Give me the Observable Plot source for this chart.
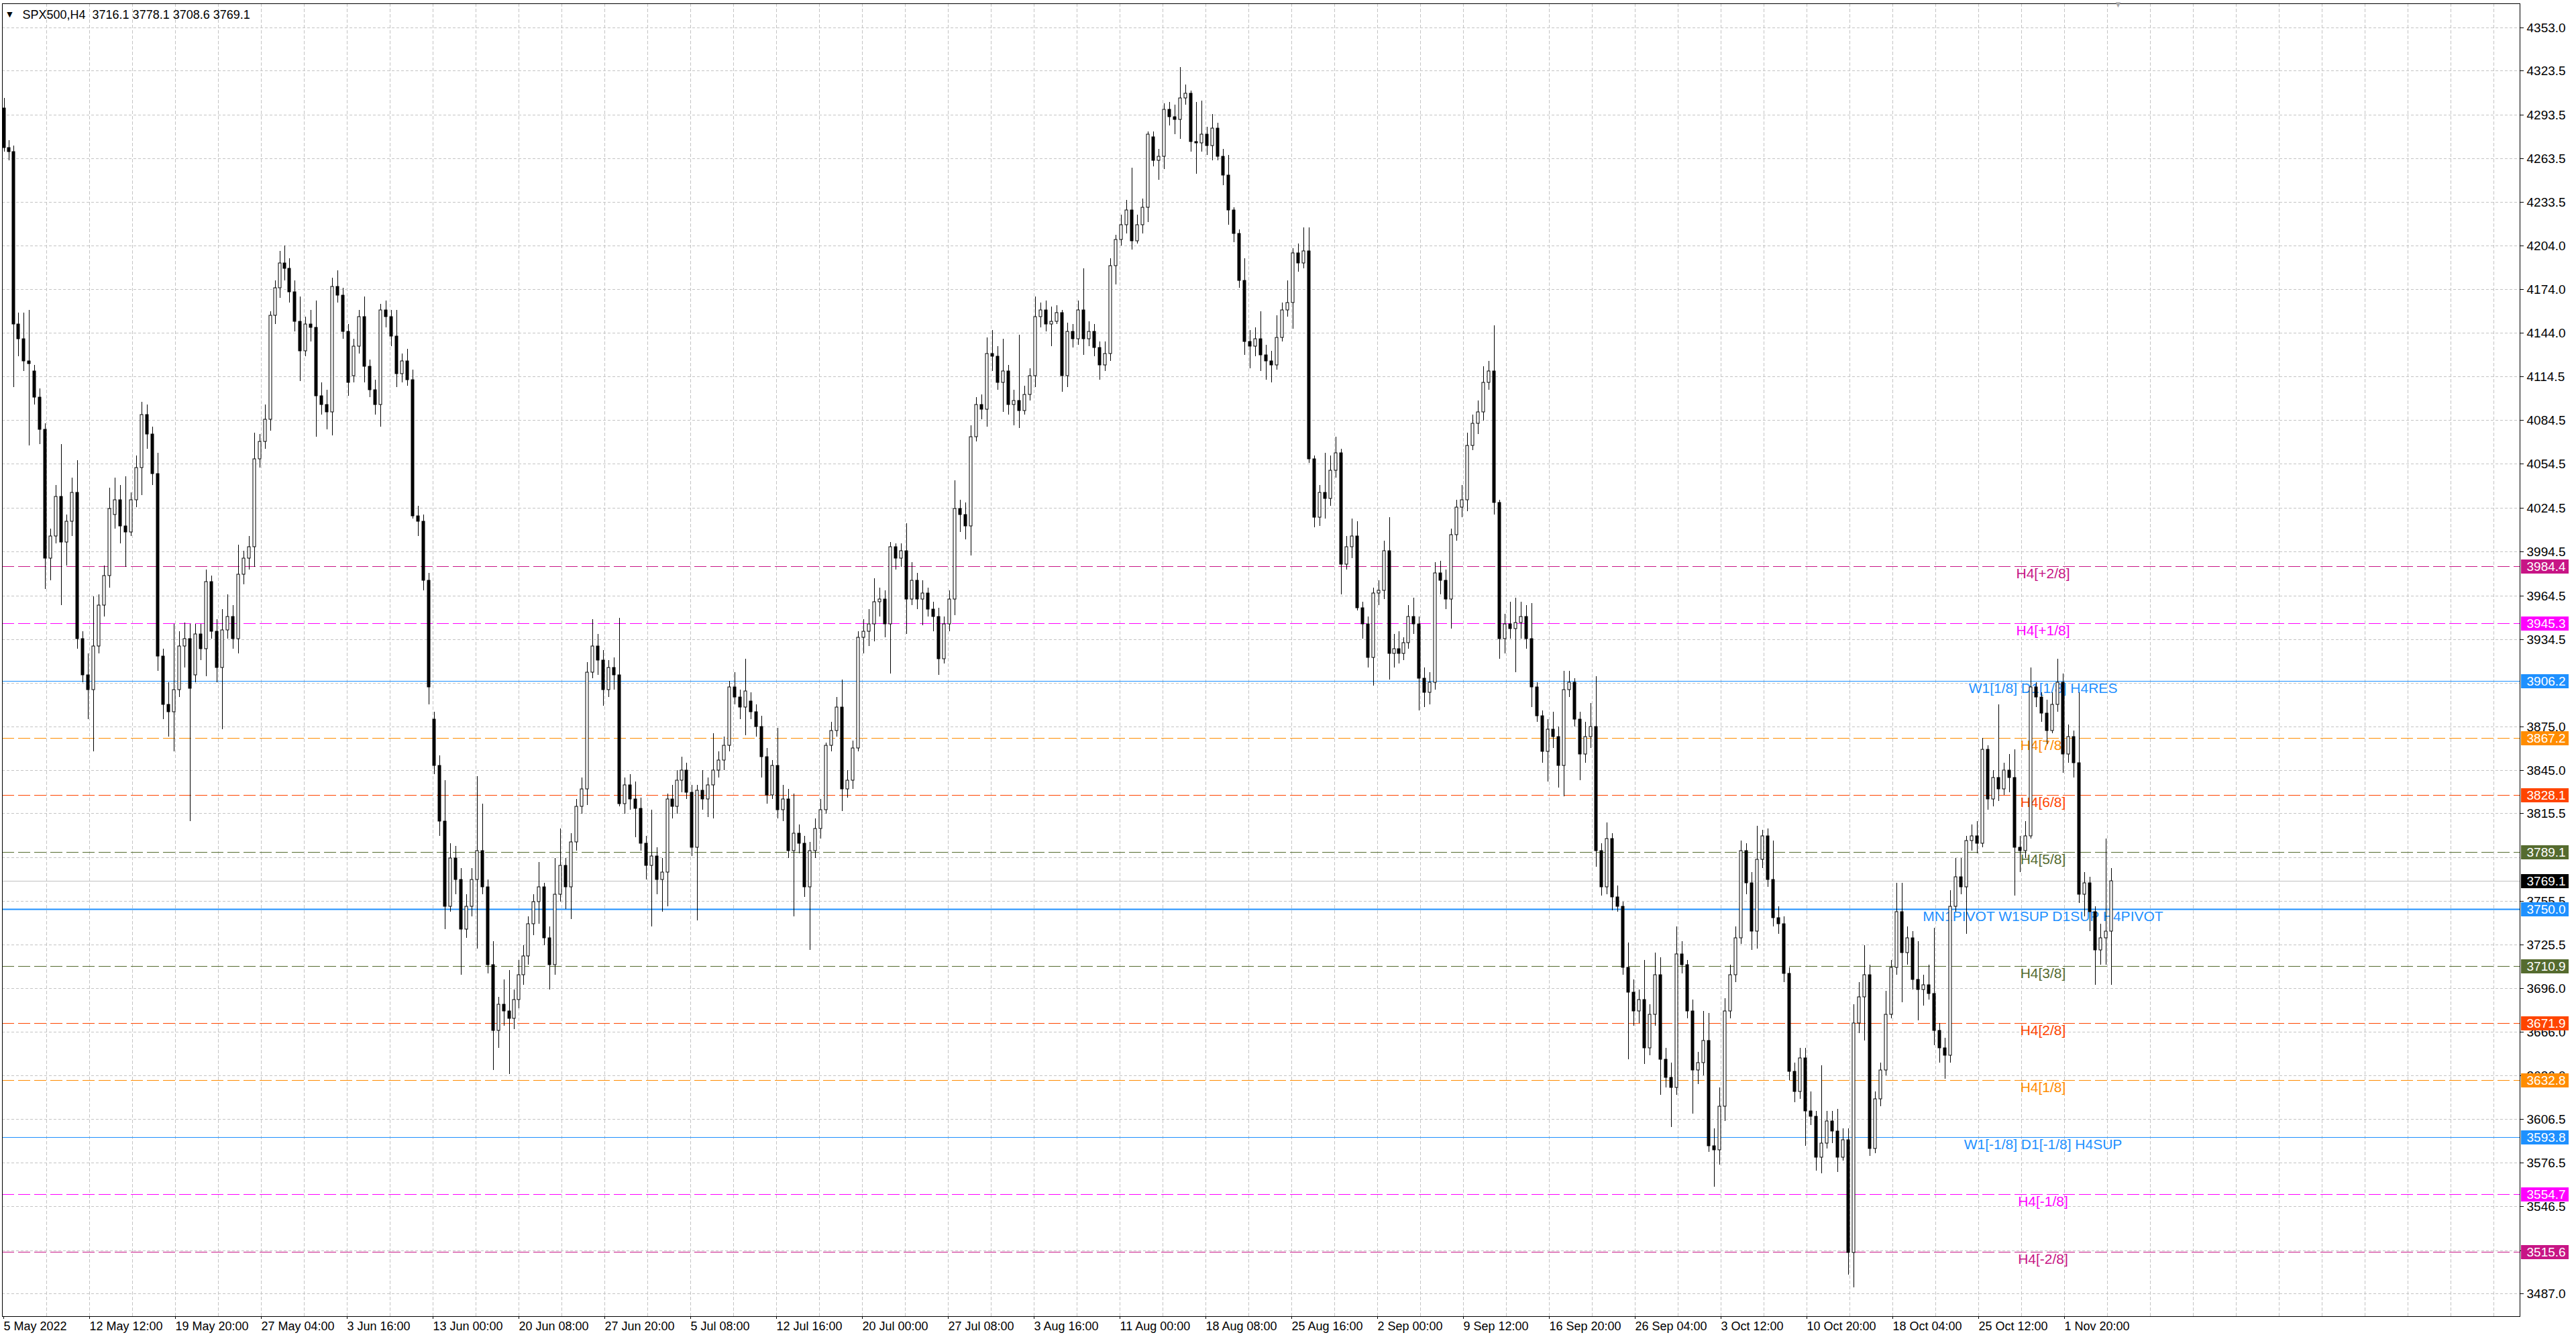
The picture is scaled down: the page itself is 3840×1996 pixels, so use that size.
<!DOCTYPE html>
<html>
<head>
<meta charset="utf-8">
<script src="https://cdn.jsdelivr.net/npm/d3@7"></script>
<script src="https://cdn.jsdelivr.net/npm/@observablehq/plot@0.6"></script>
<style>
html,body{margin:0;padding:0;background:#ffffff;}
#chart{width:3840px;height:1996px;overflow:hidden;}
</style>
</head>
<body>
<div id="chart"></div>
<script>
// ---------------- DATA ----------------
const symbolTitle = "SPX500,H4";
const lastBar = [3716.1, 3778.1, 3708.6, 3769.1]; // O H L C of the last H4 bar

const dates = [
"2022-05-05","2022-05-06","2022-05-09","2022-05-10","2022-05-11","2022-05-12","2022-05-13","2022-05-16","2022-05-17","2022-05-18","2022-05-19","2022-05-20","2022-05-23","2022-05-24","2022-05-25","2022-05-26","2022-05-27","2022-05-30","2022-05-31",
"2022-06-01","2022-06-02","2022-06-03","2022-06-06","2022-06-07","2022-06-08","2022-06-09","2022-06-10","2022-06-13","2022-06-14","2022-06-15","2022-06-16","2022-06-17","2022-06-20","2022-06-21","2022-06-22","2022-06-23","2022-06-24","2022-06-27","2022-06-28","2022-06-29","2022-06-30",
"2022-07-01","2022-07-04","2022-07-05","2022-07-06","2022-07-07","2022-07-08","2022-07-11","2022-07-12","2022-07-13","2022-07-14","2022-07-15","2022-07-18","2022-07-19","2022-07-20","2022-07-21","2022-07-22","2022-07-25","2022-07-26","2022-07-27","2022-07-28","2022-07-29",
"2022-08-01","2022-08-02","2022-08-03","2022-08-04","2022-08-05","2022-08-08","2022-08-09","2022-08-10","2022-08-11","2022-08-12","2022-08-15","2022-08-16","2022-08-17","2022-08-18","2022-08-19","2022-08-22","2022-08-23","2022-08-24","2022-08-25","2022-08-26","2022-08-29","2022-08-30","2022-08-31",
"2022-09-01","2022-09-02","2022-09-05","2022-09-06","2022-09-07","2022-09-08","2022-09-09","2022-09-12","2022-09-13","2022-09-14","2022-09-15","2022-09-16","2022-09-19","2022-09-20","2022-09-21","2022-09-22","2022-09-23","2022-09-26","2022-09-27","2022-09-28","2022-09-29","2022-09-30",
"2022-10-03","2022-10-04","2022-10-05","2022-10-06","2022-10-07","2022-10-10","2022-10-11","2022-10-12","2022-10-13","2022-10-14","2022-10-17","2022-10-18","2022-10-19","2022-10-20","2022-10-21","2022-10-24","2022-10-25","2022-10-26","2022-10-27","2022-10-28","2022-10-31",
"2022-11-01","2022-11-02","2022-11-03","2022-11-04"];
// sessions with only five H4 bars (first day shown and US holidays)
const shortSessions = ["2022-05-05","2022-05-30","2022-06-20","2022-07-04","2022-09-05"];

// three candles per session (night, morning, US session)
const opens = [
4298,4271,4268, 4150,4140,4125, 4118,4100,4078, 3990,4005,4032, 4001,4015,4035, 3935,3910,3900,
3930,3958,3978, 4020,4030,4012, 4008,4030,4052, 4088,4075,4048, 3923,3890,3885, 3900,3930,3935,
3910,3938,3928, 3974,3940,3915, 3941,3950,3935, 3979,3990,3998, 4058,4070,4085, 4156,4175,4192,
4188,4172,4152, 4132,4150,4148, 4101,4095,4090, 4176,4170,4145, 4115,4135,4155, 4121,4105,4095,
4160,4155,4142, 4116,4125,4112, 4019,4015,3975, 3880,3848,3810, 3752,3785,3770, 3736,3752,3770,
3790,3765,3712, 3667,3685,3680, 3675,3688,3705, 3718,3740,3755, 3765,3730,3712, 3760,3780,3765,
3796,3820,3832, 3912,3930,3920, 3900,3915,3910, 3822,3835,3825, 3819,3795,3780, 3786,3770,3775,
3825,3820,3838, 3845,3830,3792, 3831,3825,3835, 3845,3852,3862, 3902,3895,3888, 3892,3885,3875,
3854,3828,3848, 3818,3825,3790, 3802,3795,3765, 3790,3805,3818, 3862,3872,3888, 3832,3838,3860,
3936,3940,3945, 3960,3962,3945, 3998,3990,3995, 3962,3975,3962, 3966,3955,3950, 3921,3945,3962,
4024,4020,4012, 4073,4095,4092, 4130,4128,4110, 4118,4095,4098, 4091,4102,4115, 4155,4160,4150,
4152,4158,4115, 4145,4140,4160, 4140,4145,4134, 4122,4130,4190, 4208,4218,4228, 4207,4218,4230,
4278,4262,4265, 4297,4292,4290, 4305,4308,4275, 4274,4280,4272, 4284,4265,4252, 4228,4212,4180,
4138,4135,4140, 4129,4125,4122, 4141,4160,4165, 4199,4192,4200, 4058,4018,4035, 4031,4050,4062,
3986,3998,4005, 3956,3945,3922, 3966,3968,3995, 3925,3928,3925, 3932,3950,3945, 3908,3898,3905,
3980,3975,3962, 4006,4025,4030, 4067,4082,4090, 4110,4118,4028, 3935,3945,3942, 3946,3950,3935,
3902,3882,3858, 3873,3868,3848, 3900,3905,3880, 3856,3868,3875, 3790,3765,3798, 3758,3752,3710,
3693,3680,3688, 3655,3678,3705, 3647,3635,3628, 3719,3712,3680, 3640,3645,3660, 3588,3585,3615,
3680,3705,3730, 3790,3768,3735, 3784,3800,3770, 3744,3740,3706, 3639,3625,3648, 3612,3608,3580,
3590,3605,3598, 3580,3592,3515, 3672,3690,3705, 3586,3620,3640, 3678,3710,3748, 3720,3730,3702,
3695,3698,3692, 3667,3655,3650, 3752,3772,3765, 3797,3800,3795, 3859,3825,3840, 3832,3845,3840,
3792,3790,3800, 3902,3895,3884, 3872,3890,3905, 3856,3868,3850, 3760,3768,3748, 3722,3730,3735];

const highs = [
4305,4276,4272, 4158,4158,4160, 4122,4106,4082, 4010,4040,4068, 4020,4045,4057, 3940,3925,3964,
3965,3985,4038, 4045,4040,4046, 4035,4060,4097, 4095,4080,4062, 3928,3905,3945, 3940,3946,3945,
3945,3945,3982, 3978,3948,3955, 3965,3958,3999, 3995,4005,4076, 4075,4095,4159, 4180,4200,4204,
4195,4180,4169, 4155,4160,4166, 4110,4105,4182, 4187,4175,4150, 4140,4160,4169, 4126,4112,4164,
4166,4160,4160, 4130,4133,4119, 4026,4020,3980, 3885,3855,3838, 3795,3793,3778, 3760,3778,3841,
3822,3770,3728, 3690,3702,3708, 3695,3715,3725, 3745,3760,3782, 3768,3738,3785, 3805,3785,3802,
3825,3840,3919, 3948,3938,3927, 3920,3922,3949, 3840,3842,3837, 3826,3800,3818, 3792,3785,3829,
3835,3845,3854, 3850,3835,3835, 3845,3840,3870, 3858,3868,3906, 3912,3900,3921, 3898,3890,3882,
3860,3852,3874, 3835,3832,3829, 3808,3800,3796, 3812,3825,3864, 3878,3895,3907, 3845,3865,3940,
3948,3955,3976, 3970,3968,4001, 4000,4000,4014, 3987,3980,3975, 3970,3960,3956, 3950,3968,4043,
4030,4028,4081, 4100,4102,4141, 4146,4135,4140, 4122,4105,4143, 4108,4120,4169, 4165,4166,4162,
4163,4160,4151, 4150,4166,4188, 4152,4150,4138, 4138,4195,4211, 4225,4235,4257, 4225,4236,4282,
4282,4270,4301, 4302,4300,4326, 4314,4310,4302, 4303,4285,4294, 4288,4270,4266, 4230,4215,4195,
4146,4148,4159, 4136,4132,4156, 4165,4180,4202, 4205,4216,4216, 4060,4040,4062, 4060,4073,4065,
4005,4017,4015, 3960,3950,3970, 3975,4002,4018, 3938,3940,3936, 3958,3963,3950, 3915,3912,3987,
3988,3982,4010, 4030,4040,4076, 4088,4098,4121, 4125,4149,4030, 3952,3960,3963, 3960,3958,3959,
3905,3886,3880, 3885,3875,3913, 3913,3908,3885, 3878,3891,3909, 3795,3809,3802, 3766,3755,3727,
3702,3695,3715, 3685,3720,3717, 3655,3645,3738, 3728,3715,3688, 3652,3680,3679, 3600,3628,3689,
3712,3738,3797, 3795,3775,3807, 3804,3805,3797, 3752,3745,3710, 3645,3655,3655, 3625,3612,3643,
3612,3612,3613, 3600,3600,3685, 3700,3725,3712, 3625,3645,3694, 3715,3768,3768, 3738,3735,3728,
3705,3712,3737, 3672,3662,3763, 3785,3785,3800, 3808,3810,3867, 3862,3845,3890, 3850,3856,3859,
3800,3810,3915, 3905,3898,3893, 3898,3921,3911, 3876,3872,3898, 3775,3772,3752, 3740,3798,3778];

const lows = [
4268,4262,4107, 4128,4118,4067, 4095,4068,3969, 3975,4000,3958, 3985,4005,3928, 3905,3880,3858,
3925,3950,3970, 4010,4000,3984, 4005,4025,4033, 4065,4040,3913, 3880,3868,3858, 3895,3915,3810,
3905,3920,3909, 3935,3905,3873, 3935,3928,3925, 3972,3982,3984, 4052,4065,4077, 4150,4168,4180,
4165,4145,4111, 4128,4138,4073, 4088,4078,4074, 4165,4140,4101, 4110,4130,4110, 4100,4088,4080,
4148,4135,4107, 4110,4108,4017, 4005,3968,3890, 3842,3800,3736, 3748,3760,3705, 3730,3745,3723,
3760,3706,3640, 3655,3670,3637, 3668,3682,3698, 3712,3732,3740, 3725,3695,3705, 3755,3750,3743,
3790,3815,3821, 3908,3910,3889, 3895,3900,3820, 3815,3818,3799, 3790,3770,3738, 3760,3748,3752,
3812,3815,3830, 3825,3786,3742, 3818,3813,3812, 3840,3845,3858, 3890,3880,3869, 3880,3868,3840,
3822,3825,3812, 3810,3785,3745, 3788,3758,3722, 3785,3798,3815, 3858,3868,3817, 3826,3832,3858,
3925,3930,3933, 3950,3936,3911, 3982,3984,3938, 3958,3955,3944, 3950,3940,3910, 3918,3940,3951,
4008,4003,3992, 4070,4085,4080, 4118,4105,4090, 4088,4081,4079, 4088,4098,4107, 4148,4145,4135,
4150,4104,4107, 4134,4136,4129, 4135,4128,4112, 4118,4125,4177, 4204,4212,4201, 4205,4212,4220,
4258,4249,4256, 4286,4280,4277, 4300,4268,4253, 4268,4266,4262, 4262,4245,4218, 4206,4175,4129,
4120,4128,4118, 4112,4110,4119, 4138,4155,4147, 4186,4188,4055, 4011,4012,4017, 4026,4045,3965,
3982,3990,3954, 3935,3915,3903, 3958,3962,3907, 3915,3918,3920, 3928,3938,3886, 3888,3890,3900,
3965,3955,3942, 4002,4018,4022, 4064,4075,4084, 4105,4020,3921, 3925,3935,3912, 3935,3928,3888,
3878,3850,3837, 3860,3833,3827, 3895,3875,3838, 3850,3860,3779, 3759,3760,3749, 3748,3705,3647,
3670,3672,3644, 3650,3670,3623, 3628,3601,3623, 3706,3675,3610, 3630,3636,3584, 3560,3575,3605,
3675,3700,3726, 3760,3722,3723, 3778,3765,3738, 3733,3700,3633, 3618,3620,3588, 3602,3571,3569,
3586,3590,3570, 3578,3500,3491, 3665,3660,3581, 3583,3615,3636, 3675,3705,3686, 3712,3695,3674,
3684,3688,3657, 3645,3634,3645, 3748,3760,3733, 3790,3788,3792, 3818,3820,3824, 3828,3830,3759,
3775,3785,3798, 3888,3878,3863, 3870,3885,3843, 3850,3840,3754, 3745,3735,3698, 3712,3712,3698];

const closes = [
4271,4268,4150, 4140,4125,4123, 4100,4078,3990, 4005,4032,4001, 4015,4035,3935, 3910,3900,3930,
3958,3978,4024, 4030,4012,4008, 4030,4052,4088, 4075,4048,3923, 3890,3885,3900, 3930,3935,3901,
3938,3928,3974, 3940,3915,3941, 3950,3935,3979, 3990,3998,4058, 4070,4085,4156, 4175,4192,4188,
4172,4152,4132, 4150,4148,4101, 4095,4090,4176, 4170,4145,4110, 4135,4155,4121, 4105,4095,4160,
4155,4142,4116, 4125,4112,4019, 4015,3975,3902, 3848,3810,3752, 3785,3770,3736, 3752,3770,3790,
3765,3712,3667, 3685,3680,3675, 3688,3705,3718, 3740,3755,3765, 3730,3712,3760, 3780,3765,3796,
3820,3832,3912, 3930,3920,3900, 3915,3910,3822, 3835,3825,3819, 3795,3780,3786, 3770,3775,3825,
3820,3838,3845, 3830,3792,3831, 3825,3835,3845, 3852,3862,3902, 3895,3888,3899, 3885,3875,3854,
3828,3848,3818, 3825,3790,3802, 3795,3765,3790, 3805,3818,3862, 3872,3888,3832, 3838,3860,3936,
3940,3945,3960, 3962,3945,3998, 3990,3995,3962, 3975,3962,3966, 3955,3950,3921, 3945,3962,4024,
4020,4012,4073, 4095,4092,4130, 4128,4110,4118, 4095,4098,4091, 4102,4115,4155, 4160,4150,4152,
4158,4115,4145, 4140,4160,4140, 4145,4134,4122, 4130,4190,4208, 4218,4228,4207, 4218,4230,4280,
4262,4265,4297, 4292,4290,4305, 4308,4275,4274, 4280,4272,4284, 4265,4252,4228, 4212,4180,4138,
4135,4140,4129, 4125,4122,4141, 4160,4165,4199, 4192,4200,4058, 4018,4035,4031, 4050,4062,3986,
3998,4005,3956, 3945,3922,3966, 3968,3995,3925, 3928,3925,3932, 3950,3945,3908, 3898,3905,3980,
3975,3962,4006, 4025,4030,4067, 4082,4090,4110, 4118,4028,3935, 3945,3942,3946, 3950,3935,3902,
3882,3858,3873, 3868,3848,3900, 3905,3880,3856, 3868,3875,3790, 3765,3798,3758, 3752,3710,3693,
3680,3688,3655, 3678,3705,3647, 3635,3628,3719, 3712,3680,3640, 3645,3660,3588, 3585,3615,3680,
3705,3730,3790, 3768,3735,3784, 3800,3770,3744, 3740,3706,3639, 3625,3648,3612, 3608,3580,3590,
3605,3598,3580, 3592,3515,3672, 3690,3705,3586, 3620,3640,3678, 3710,3748,3720, 3730,3702,3695,
3698,3692,3667, 3655,3650,3752, 3772,3765,3797, 3800,3795,3859, 3825,3840,3832, 3845,3840,3792,
3790,3800,3902, 3895,3884,3872, 3890,3905,3856, 3868,3850,3760, 3768,3748,3722, 3730,3735,3769.1];

// price scale grid levels (right axis); two of them carry no label in the reference
const priceTicks = [4353.0,4323.5,4293.5,4263.5,4233.5,4204.0,4174.0,4144.0,4114.5,4084.5,4054.5,4024.5,
  3994.5,3964.5,3934.5,3904.5,3875.0,3845.0,3815.5,3785.5,3755.5,3725.5,3696.0,3666.0,3636.0,3606.5,3576.5,3546.5,3516.5,3487.0];
const unlabelledTicks = [3904.5, 3785.5];

// time scale labels (one every 32 H4 bars)
const timeLabels = ["5 May 2022","12 May 12:00","19 May 20:00","27 May 04:00","3 Jun 16:00","13 Jun 00:00",
  "20 Jun 08:00","27 Jun 20:00","5 Jul 08:00","12 Jul 16:00","20 Jul 00:00","27 Jul 08:00","3 Aug 16:00",
  "11 Aug 00:00","18 Aug 08:00","25 Aug 16:00","2 Sep 00:00","9 Sep 12:00","16 Sep 20:00","26 Sep 04:00",
  "3 Oct 12:00","10 Oct 20:00","18 Oct 04:00","25 Oct 12:00","1 Nov 20:00"];

// indicator levels
const levelPrices = [3984.4,3945.3,3906.2,3867.2,3828.1,3789.1,3750.0,3710.9,3671.9,3632.8,3593.8,3554.7,3515.6];
const levelNames = ["H4[+2/8]","H4[+1/8]","W1[1/8] D1[1/8] H4RES","H4[7/8]","H4[6/8]","H4[5/8]",
  "MN1PIVOT W1SUP D1SUP H4PIVOT","H4[3/8]","H4[2/8]","H4[1/8]","W1[-1/8] D1[-1/8] H4SUP","H4[-1/8]","H4[-2/8]"];

// ---------------- STYLE ----------------
const levelColors = ["#C71585","#FF00FF","#1E90FF","#FF8C00","#FF4500","#556B2F","#1E90FF","#556B2F","#FF4500","#FF8C00","#1E90FF","#FF00FF","#C71585"];
const solidLevels = ["W1[1/8] D1[1/8] H4RES","MN1PIVOT W1SUP D1SUP H4PIVOT","W1[-1/8] D1[-1/8] H4SUP"];
const FONT = "'Liberation Sans', Arial, Helvetica, sans-serif";
const barsPerLabel = 32, barsPerGrid = 16;
const xDomain = [-0.5, 937.75];
const yDomain = [3471.4, 4369.5];
const labelBar = 760;          // where level names are centred (bar index)
const boxStart = 938.25, boxEnd = 956, boxText = 940.25; // price boxes in the right scale area

// ---------------- BUILD ----------------
const nC = dates.length * 3;
if ([opens, highs, lows, closes].some(a => a.length !== nC)) {
  document.body.insertAdjacentHTML("beforeend", `<p style="font-size:40px">length mismatch ${opens.length} ${highs.length} ${lows.length} ${closes.length} vs ${nC}</p>`);
}

const candles = [];
let start = 0;
dates.forEach((d, di) => {
  const nb = shortSessions.includes(d) ? 5 : 6;
  for (let j = 0; j < 3; j++) {
    const k = di * 3 + j;
    const slot = nb / 3;
    const xc = start + (j + 0.5) * slot - 0.5;
    const hw = slot * 0.28;
    candles.push({x: xc, x1: xc - hw, x2: xc + hw, o: opens[k], h: highs[k], l: lows[k], c: closes[k]});
  }
  start += nb;
});
const totalBars = start;

const levels = levelPrices.map((v, i) => ({v, name: levelNames[i], color: levelColors[i]}));
const dashedLevels = levels.filter(d => !solidLevels.includes(d.name));
const solidLevelData = levels.filter(d => solidLevels.includes(d.name));
const boxes = [...levels, {v: lastBar[3], name: "price", color: "#000000"}];

const labelTicks = timeLabels.map((_, i) => i * barsPerLabel);
const gridTicks = d3.range(barsPerGrid, xDomain[1], barsPerGrid);
const axisTicks = priceTicks.filter(t => !unlabelledTicks.includes(t));
const title = `${symbolTitle}  ${lastBar.map(v => v.toFixed(1)).join(" ")}`;

const chart = Plot.plot({
  width: 3840,
  height: 1996,
  marginLeft: 3,
  marginRight: 84,
  marginTop: 5,
  marginBottom: 34,
  style: {fontFamily: FONT, fontSize: "18px", background: "#ffffff", color: "#000"},
  x: {type: "linear", domain: xDomain, round: true},
  y: {type: "linear", domain: yDomain, round: true},
  marks: [
    Plot.gridY(priceTicks, {stroke: "#c4c4c4", strokeOpacity: 1, strokeDasharray: "4,3"}),
    Plot.gridX(gridTicks, {stroke: "#c4c4c4", strokeOpacity: 1, strokeDasharray: "5,3"}),
    Plot.ruleY(dashedLevels, {y: "v", stroke: "color", strokeDasharray: "18,6", strokeWidth: 1}),
    Plot.ruleY(solidLevelData, {y: "v", stroke: "color", strokeWidth: d => d.name.startsWith("MN1") ? 2 : 1}),
    Plot.ruleY([lastBar[3]], {stroke: "#c0c0c0", strokeWidth: 1}),
    Plot.text(levels, {x: () => labelBar, y: "v", text: "name", fill: "color", dy: 11,
      fontSize: 21, fontFamily: FONT, textAnchor: "middle", lineAnchor: "middle"}),
    Plot.ruleX(candles, {x: "x", y1: "l", y2: "h", stroke: "#000", strokeWidth: 1}),
    Plot.rect(candles, {x1: "x1", x2: "x2", y1: "o", y2: "c",
      fill: d => d.c >= d.o ? "#ffffff" : "#000000", stroke: "#000", strokeWidth: 1}),
    Plot.frame({stroke: "#000", strokeWidth: 1}),
    Plot.axisX(labelTicks, {anchor: "bottom", tickSize: 4, tickPadding: 4, label: null,
      tickFormat: d => timeLabels[Math.round(d / barsPerLabel)], textAnchor: "start", fontSize: 18, fontFamily: FONT}),
    Plot.axisY(axisTicks, {anchor: "right", tickSize: 5, tickPadding: 5, label: null,
      tickFormat: d => d.toFixed(1), fontSize: 19, fontFamily: FONT}),
    Plot.ruleY(boxes, {y: "v", x1: () => boxStart, x2: () => boxEnd, stroke: "color", strokeWidth: 21}),
    Plot.text(boxes, {x: () => boxText, y: "v", text: d => d.v.toFixed(1), fill: "#ffffff",
      textAnchor: "start", lineAnchor: "middle", fontSize: 19, fontFamily: FONT}),
    Plot.text([title], {frameAnchor: "top-left", dx: 30, dy: 17, textAnchor: "start", lineAnchor: "middle",
      fontSize: 18, fontFamily: FONT, fill: "#000"}),
    Plot.text(["\u25BC"], {frameAnchor: "top-left", dx: 11, dy: 16, textAnchor: "middle", lineAnchor: "middle",
      fontSize: 14, fill: "#000"}),
    Plot.text(["\u25BC"], {x: () => totalBars + 1, frameAnchor: "top", dy: 1, textAnchor: "middle", lineAnchor: "middle",
      fontSize: 13, fill: "#a8a8a8"})
  ]
});
document.getElementById("chart").appendChild(chart);
</script>
</body>
</html>
